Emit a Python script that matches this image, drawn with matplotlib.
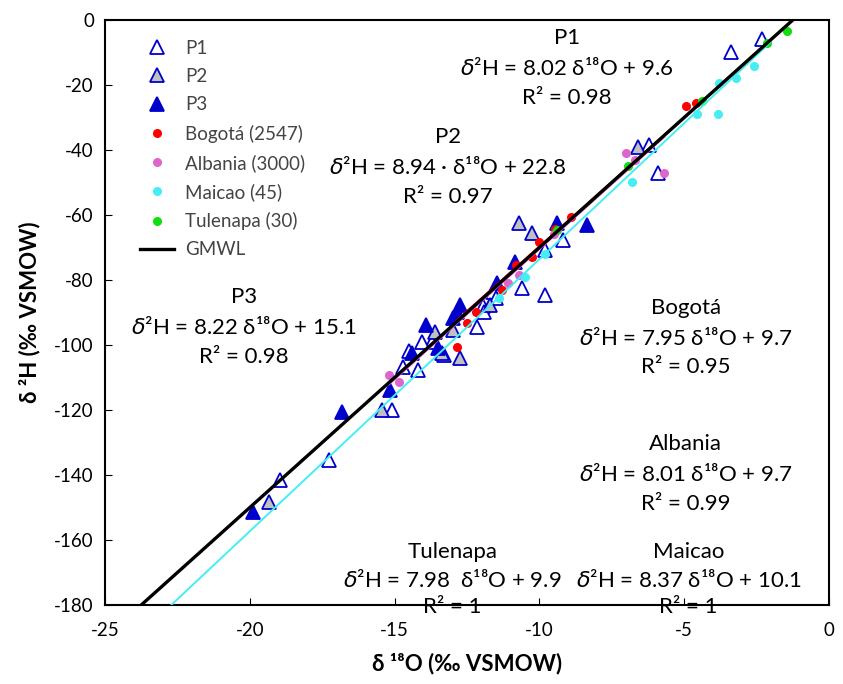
import numpy as np
import matplotlib.pyplot as plt

plt.rcParams['font.family'] = ['Lato', 'DejaVu Sans']
plt.rcParams['axes.unicode_minus'] = False

# --- data (d18O, d2H) ---
p1_x = [-2.3, -3.4, -5.9, -6.2, -9.2, -9.8, -9.8, -10.6, -11.6, -11.5, -11.95, -11.9,
        -12.15, -13.7, -13.3, -14.05, -14.5, -14.7, -14.2, -15.1, -17.25, -18.95]
p1_y = [-6, -10, -47, -38.5, -67.7, -70.8, -84.6, -82.5, -83.6, -85.5, -88, -90,
        -94.5, -99, -103, -99, -102, -106.8, -107.7, -120, -135.5, -141.5]

p2_x = [-6.6, -10.7, -10.25, -11.7, -13.0, -12.75, -13.6, -13.35, -15.45, -19.35]
p2_y = [-39, -62.5, -65.5, -87.7, -95.4, -104, -96, -102.5, -120, -148.3]

p3_x = [-9.4, -8.35, -10.85, -11.45, -12.75, -12.85, -13.0, -13.9, -13.5, -14.4,
        -15.15, -16.8, -19.9]
p3_y = [-62.4, -63, -74.5, -81, -87.7, -90, -91.7, -94, -101, -102.5,
        -113.8, -120.6, -151.5]

bog_x = [-4.95, -4.6, -8.9, -9.45, -10.0, -10.25, -10.8, -12.5, -12.85, -12.2, -11.3]
bog_y = [-26.5, -25.5, -60.5, -64.3, -68.3, -73, -75.4, -93.3, -100.6, -90, -83]

alb_x = [-7.0, -5.7, -10.7, -11.1, -15.2, -14.85, -9.5, -6.7]
alb_y = [-41, -47, -78.5, -81, -109.3, -111.5, -66, -43]

mai_x = [-2.6, -3.8, -3.85, -4.55, -6.8, -3.2, -11.4, -10.5, -9.8]
mai_y = [-14.3, -19.5, -29, -29, -50, -18, -85.5, -79, -72]

tul_x = [-1.45, -2.15, -4.4, -6.95, -9.4]
tul_y = [-3.5, -7.2, -25, -45, -64.6]

# regression lines: slope, intercept, x range
fits = {
    'mai': (8.37, 10.1, -22.7, -2.0),
    'alb': (8.01, 9.7, -15.2, -5.7),
    'tul': (7.98, 9.9, -9.5, -1.4),
    'bog': (7.95, 9.7, -12.85, -4.3),
}
gmwl = (8.0, 10.0, -23.75, -1.25)

blue = '#0000CC'
c_bog = '#FF0000'
c_alb = '#DD66CC'
c_mai = '#44EEF4'
c_tul = '#11DD11'

fig = plt.figure(figsize=(8.43, 6.84), dpi=100)
ax = fig.add_axes([0.1246, 0.1155, 0.8588, 0.8553])

ax.plot(p1_x, p1_y, '^', ms=10, mfc='white', mec=blue, mew=1.3, ls='none', label='P1', zorder=2)
ax.plot(p2_x, p2_y, '^', ms=10, mfc='#C0C0C0', mec=blue, mew=1.3, ls='none', label='P2', zorder=2)
ax.plot(p3_x, p3_y, '^', ms=10, mfc=blue, mec=blue, mew=1.3, ls='none', label='P3', zorder=2)
ax.plot(bog_x, bog_y, 'o', ms=5.5, color=c_bog, ls='none', label='Bogotá (2547)', zorder=2)
ax.plot(alb_x, alb_y, 'o', ms=5.5, color=c_alb, ls='none', label='Albania (3000)', zorder=2)
ax.plot(mai_x, mai_y, 'o', ms=5.5, color=c_mai, ls='none', label='Maicao (45)', zorder=2)
ax.plot(tul_x, tul_y, 'o', ms=5.5, color=c_tul, ls='none', label='Tulenapa (30)', zorder=2)

cols = {'bog': c_bog, 'alb': c_alb, 'mai': c_mai, 'tul': c_tul}
for k, (m, b, x0, x1) in fits.items():
    xx = np.array([x0, x1])
    ax.plot(xx, m * xx + b, color=cols[k], lw=1.8 if k != 'mai' else 1.4, zorder=3)

xx = np.array([gmwl[2], gmwl[3]])
ax.plot(xx, gmwl[0] * xx + gmwl[1], color='black', lw=2.4, label='GMWL', zorder=4)

ax.set_xlim(-25, 0)
ax.set_ylim(-180, 0)
ax.set_xticks(np.arange(-25, 1, 5))
ax.set_yticks(np.arange(-180, 1, 20))
ax.tick_params(direction='in', length=5, labelsize=13.5, colors='black', pad=8)
ax.tick_params(axis='x', pad=12)
for s in ax.spines.values():
    s.set_linewidth(1.5)

ax.set_xlabel('δ ¹⁸O (‰ VSMOW)', fontsize=16, fontweight='bold', labelpad=10)
ax.set_ylabel('δ ²H (‰ VSMOW)', fontsize=16, fontweight='bold', labelpad=10)

leg = ax.legend(loc='upper left', bbox_to_anchor=(0.025, 0.995), frameon=False,
                fontsize=13.5, handlelength=1.8, handletextpad=0.6, labelspacing=0.6,
                labelcolor='#444444')

fs = 16
def block(x, y, title, eq, r2, dy=9.2):
    ax.text(x, y, title, fontsize=fs, ha='center', va='center')
    ax.text(x, y - dy, eq, fontsize=fs, ha='center', va='center')
    ax.text(x, y - 2 * dy, r2, fontsize=fs, ha='center', va='center')

block(-9.05, -5.5, 'P1', r'$\delta$²H = 8.02 δ¹⁸O + 9.6', 'R² = 0.98')
block(-13.15, -36, 'P2', r'$\delta$²H = 8.94 · δ¹⁸O + 22.8', 'R² = 0.97')
block(-20.2, -85.2, 'P3', r'$\delta$²H = 8.22 δ¹⁸O + 15.1', 'R² = 0.98')
block(-4.95, -88.5, 'Bogotá', r'$\delta$²H = 7.95 δ¹⁸O + 9.7', 'R² = 0.95')
block(-4.95, -130.5, 'Albania', r'$\delta$²H = 8.01 δ¹⁸O + 9.7', 'R² = 0.99')
block(-13.0, -163.7, 'Tulenapa', r'$\delta$²H = 7.98  δ¹⁸O + 9.9', 'R² = 1', dy=8.5)
block(-4.85, -163.7, 'Maicao', r'$\delta$²H = 8.37 δ¹⁸O + 10.1', 'R² = 1', dy=8.5)

fig.savefig('out.png', dpi=100)
